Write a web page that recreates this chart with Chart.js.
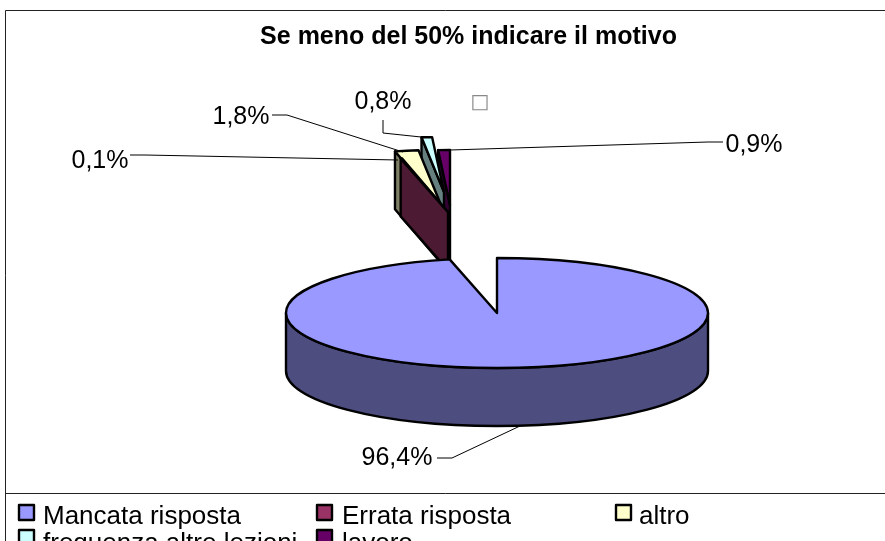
<!DOCTYPE html>
<html><head><meta charset="utf-8">
<style>html,body{margin:0;padding:0;background:#fff}canvas{display:block}</style>
<script src="https://cdn.jsdelivr.net/npm/chart.js@4"></script>
</head><body><canvas id="c" width="885" height="541"></canvas>
<script>
const titleText = "Se meno del 50% indicare il motivo";
const categories = ["Mancata risposta","Errata risposta","altro","frequenza altre lezioni","lavoro"];
const values = [96.4,0.1,1.8,0.8,0.9];
const topColors = ["#9999ff","#993366","#ffffcc","#ccffff","#660066"];
const wallColors = ["#4d4d80","#4d1a33","#808066","#668080","#330033"];

// layout of the 3D drawing
const bigApex = [497,313];
const flatten = 55/211, depth = 58, pieRadius = 211;
const sliceShift = [[0,0],[-49,-101],[-56,-108],[-53,-121],[-47,-108]];
const paintOrder = [4,3,2,1,0];
const labelAt = [[397,458],[100,161],[241,117],[383,102],[754,145]];
const leaders = [
  [[437,458],[452,458],[520,426]],
  [[130,155],[145,155],[398,160]],
  [[272,115],[287,115],[403,152]],
  [[383,120],[383,133],[421,137]],
  [[723,142],[708,142],[450,150]]
];
const legendAt = [[19,505],[317,505],[616,505],[19,530],[317,530]];
const legendTextX = [43,342,639,43,342];
const legendTextY = [524,524,524,551,551];
const FONT = '"Liberation Sans", Arial, sans-serif';

const pie3d = {
  id:'pie3d',
  beforeDatasetDraw(chart,args){
    const ctx = chart.ctx, arcs = args.meta.data;
    paintOrder.forEach(i=>{
      const a = arcs[i], r = a.outerRadius;
      const cx = bigApex[0]+sliceShift[i][0], cy = bigApex[1]+sliceShift[i][1];
      ctx.lineJoin='round';
      ctx.lineWidth=2.4; ctx.strokeStyle='#000';
      // wall
      ctx.beginPath();
      if(i===0){
        ctx.ellipse(cx,cy+depth,r,r*flatten,0,0,Math.PI);
        ctx.ellipse(cx,cy,r,r*flatten,0,Math.PI,0,true);
      }else{
        const ox = cx+r*Math.cos(a.startAngle), oy = cy+r*flatten*Math.sin(a.startAngle);
        ctx.moveTo(cx,cy); ctx.lineTo(ox,oy); ctx.lineTo(ox,oy+depth); ctx.lineTo(cx,cy+depth);
      }
      ctx.closePath();
      ctx.fillStyle=wallColors[i]; ctx.fill(); ctx.stroke();
      // top face, filled by the library's own arc element
      ctx.save();
      ctx.translate(cx,cy); ctx.scale(1,flatten); ctx.translate(-a.x,-a.y);
      a.draw(ctx);
      ctx.beginPath();
      ctx.moveTo(a.x,a.y);
      ctx.arc(a.x,a.y,r,a.startAngle,a.endAngle);
      ctx.closePath();
      ctx.restore();
      ctx.stroke();
    });
    return false;
  },
  afterDraw(chart){
    const ctx = chart.ctx;
    ctx.save();
    // frame
    ctx.strokeStyle='#222'; ctx.lineWidth=1;
    ctx.beginPath();
    ctx.moveTo(5.5,541); ctx.lineTo(5.5,10.5); ctx.lineTo(885,10.5);
    ctx.moveTo(5.5,493.5); ctx.lineTo(885,493.5);
    ctx.stroke();
    // leader lines and labels
    ctx.strokeStyle='#000'; ctx.lineWidth=1;
    leaders.forEach(l=>{
      ctx.beginPath();
      l.forEach((p,j)=> j?ctx.lineTo(p[0],p[1]):ctx.moveTo(p[0],p[1]));
      ctx.stroke();
    });
    ctx.fillStyle='#000'; ctx.textAlign='center'; ctx.textBaseline='middle';
    ctx.font='25px '+FONT;
    values.forEach((v,i)=>{
      ctx.fillText(v.toFixed(1).replace('.',',')+'%',labelAt[i][0],labelAt[i][1]);
    });
    ctx.fillStyle='#888'; ctx.font='20px "DejaVu Sans"';
    ctx.fillText('\u25A1',480,103);
    // legend
    ctx.textAlign='left'; ctx.textBaseline='alphabetic';
    ctx.font='26px '+FONT;
    categories.forEach((n,i)=>{
      const [x,y]=legendAt[i];
      ctx.fillStyle=topColors[i]; ctx.strokeStyle='#000'; ctx.lineWidth=2.4;
      ctx.fillRect(x,y,15,15); ctx.strokeRect(x,y,15,15);
      ctx.fillStyle='#000';
      ctx.fillText(n,legendTextX[i],legendTextY[i]);
    });
    ctx.restore();
  }
};

new Chart(document.getElementById('c'),{
  type:'pie',
  data:{labels:categories,datasets:[{data:values,backgroundColor:topColors,borderWidth:0,radius:pieRadius,clip:false}]},
  options:{
    responsive:false,animation:false,
    layout:{padding:{left:52,top:22}},
    events:[],
    plugins:{
      legend:{display:false},tooltip:{enabled:false},
      title:{display:true,text:titleText,color:'#000',font:{family:FONT,size:25,weight:'bold'},padding:0}
    }
  },
  plugins:[pie3d]
});
</script></body></html>
